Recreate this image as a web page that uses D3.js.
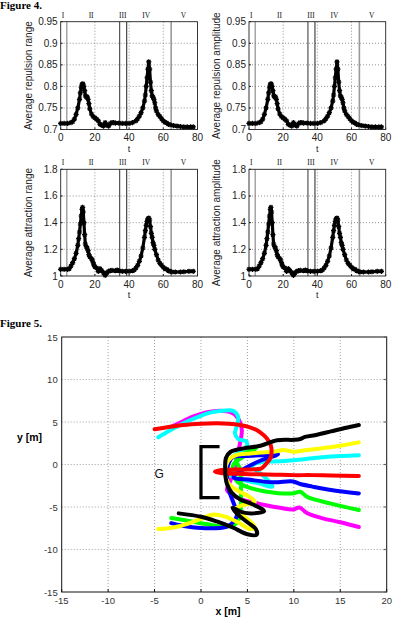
<!DOCTYPE html>
<html><head><meta charset="utf-8">
<script src="https://cdn.jsdelivr.net/npm/d3@7"></script>
<style>body{margin:0;background:#fff}svg{display:block}</style>
</head><body>
<svg id="c" width="408" height="625"></svg>
<script>
// ---------- Figure 4 data ----------
const tRep = [0,2,4,6,7,8,9,10,11,11.5,12,12.5,13,13.5,14,14.5,15,15.5,16,16.5,17,18,19,20,21,22,23,24,25,26,27,28,29,30,31,32,34,36,38,40,42,44,45,46,47,48,49,49.5,50,50.5,51,51.5,52,52.5,53,53.5,54,54.5,55,55.5,56,57,58,59,60,61,62,63,64,66,68,70,72,74,76,77.5];
const repRange = [0.714,0.714,0.714,0.716,0.718,0.724,0.735,0.75,0.77,0.785,0.798,0.805,0.806,0.8,0.79,0.778,0.775,0.776,0.77,0.76,0.748,0.736,0.73,0.727,0.724,0.72,0.712,0.71,0.708,0.716,0.71,0.708,0.714,0.716,0.716,0.715,0.715,0.714,0.714,0.714,0.716,0.72,0.725,0.731,0.739,0.75,0.766,0.78,0.8,0.82,0.84,0.857,0.84,0.81,0.79,0.778,0.775,0.77,0.762,0.75,0.743,0.735,0.73,0.725,0.72,0.717,0.715,0.712,0.711,0.709,0.708,0.707,0.706,0.706,0.706,0.706];
const repAmp = [0.714,0.714,0.714,0.716,0.718,0.724,0.735,0.75,0.77,0.785,0.798,0.805,0.806,0.8,0.79,0.778,0.775,0.776,0.77,0.76,0.748,0.736,0.73,0.727,0.724,0.72,0.712,0.71,0.708,0.716,0.71,0.708,0.714,0.716,0.716,0.715,0.715,0.714,0.714,0.714,0.716,0.72,0.725,0.731,0.739,0.75,0.766,0.78,0.8,0.82,0.84,0.857,0.84,0.81,0.79,0.778,0.775,0.77,0.762,0.75,0.743,0.735,0.73,0.725,0.72,0.717,0.715,0.712,0.711,0.709,0.708,0.707,0.706,0.706,0.706,0.706];
const tAtt = [0,2,4,5,6,7,8,9,10,10.5,11,11.5,12,12.5,12.8,13.2,13.6,14,14.4,15,15.5,16,16.5,17,18,18.5,19,19.5,20,21,22,23,24,25,26,27,28,29,30,32,33,34,36,38,40,42,43,44,45,46,47,48,49,49.5,50,50.5,51,51.5,52,52.5,53,53.5,54,54.5,55,56,57,58,59,60,61,62,63,64,65,67,70,72,75,77.5];
const attRange = [1.05,1.05,1.05,1.055,1.075,1.1,1.13,1.17,1.23,1.28,1.33,1.39,1.45,1.5,1.515,1.48,1.4,1.31,1.24,1.22,1.21,1.19,1.16,1.145,1.13,1.12,1.1,1.08,1.07,1.06,1.035,1.055,1.04,1.025,1.005,1.025,1.035,1.04,1.042,1.04,1.045,1.04,1.035,1.035,1.035,1.04,1.045,1.06,1.08,1.11,1.15,1.21,1.29,1.34,1.38,1.41,1.43,1.435,1.42,1.37,1.32,1.29,1.25,1.23,1.2,1.16,1.12,1.095,1.08,1.065,1.055,1.05,1.04,1.035,1.03,1.03,1.03,1.032,1.035,1.035];
const attAmp = [1.05,1.05,1.05,1.055,1.075,1.1,1.13,1.17,1.23,1.28,1.33,1.39,1.45,1.5,1.515,1.48,1.4,1.31,1.24,1.22,1.21,1.19,1.16,1.145,1.13,1.12,1.1,1.08,1.07,1.06,1.035,1.055,1.04,1.025,1.005,1.025,1.035,1.04,1.042,1.04,1.045,1.04,1.035,1.035,1.035,1.04,1.045,1.06,1.08,1.11,1.15,1.21,1.29,1.34,1.38,1.41,1.43,1.435,1.42,1.37,1.32,1.29,1.25,1.23,1.2,1.16,1.12,1.095,1.08,1.065,1.055,1.05,1.04,1.035,1.03,1.03,1.03,1.032,1.035,1.035];
const tTicks = [0,20,40,60,80];
const repTicks = [0.7,0.75,0.8,0.85,0.9,0.95];
const repTickLabels = ["0.7","0.75","0.8","0.85","0.9","0.95"];
const attTicks = [1,1.2,1.4,1.6,1.8];
const attTickLabels = ["1","1.2","1.4","1.6","1.8"];
const phaseLines = [3.6,34.5,38.6,64.6];
const phaseLabels = ["I","II","III","IV","V"];
const phaseLabelT = [1.3,17.8,36.3,50,71.8];

// ---------- Figure 5 data ----------
const xTicks5 = [-15,-10,-5,0,5,10,15,20];
const yTicks5 = [-15,-10,-5,0,5,10,15];
const trajMagenta = [[-3.3,4.4],[-2.8,4.65],[-2,5.05],[-1.2,5.5],[0,5.95],[1,6.2],[2.4,6.3],[3.5,6.0],[4.2,5.0],[4.4,4.0],[4.2,2.5],[3.9,1.0],[3.6,-0.5],[3.2,-1.8],[2.8,-3.0],[3.6,-3.7],[4.6,-4.2],[5.8,-4.5],[7,-4.8],[8.5,-5.1],[9.9,-5.3],[10.6,-5.05],[11.4,-5.7],[13,-6.3],[15,-6.8],[17,-7.35]];
const trajCyan = [[-4.6,3.2],[-3.5,3.9],[-2.6,4.45],[-1.2,5.2],[-0.1,5.7],[1,6.1],[2.05,6.3],[3.5,6.3],[4.0,5.6],[3.9,4.65],[3.66,3.67],[4.0,3.0],[4.9,2.7],[4.9,2.1],[4.2,1.5],[3.2,0.7],[2.6,-0.3],[3.2,-1.3],[4.5,-1.8],[6.2,-2.2],[7.7,-2.6],[6.8,-1.4],[5.5,-0.2],[6.5,0.3],[7.8,0.35],[10,0.5],[12.5,0.8],[15,1.0],[17,1.1]];
const trajGreen = [[-3.2,-6.3],[-1.5,-6.6],[0.5,-7.0],[2.8,-7.3],[3.8,-6.9],[4.2,-6.0],[4.3,-4.5],[4.3,-2.5],[4.2,-0.5],[3.8,0.5],[4.5,1.2],[6,2.0],[5,1.2],[3.5,0],[3.5,-1.2],[3.9,-2.0],[4.9,-2.6],[7.1,-3.2],[9.9,-3.4],[10.7,-3.2],[11.4,-3.8],[14,-4.6],[17,-5.35]];
const trajBlue = [[-3.2,-6.9],[-1.5,-7.3],[0.5,-7.5],[2.8,-7.3],[3.6,-6.6],[3.9,-5.8],[3.5,-4.5],[3.0,-3.0],[2.8,-1.5],[3.0,0.2],[3.5,0.9],[5,1.0],[6.5,1.1],[8.3,1.2],[6.5,0.5],[4.5,-0.6],[3.5,-1.5],[5.3,-1.8],[7.8,-2.1],[9.9,-2.0],[10.7,-2.3],[12,-2.6],[14,-3.0],[17,-3.4]];
const trajYellow = [[-4.6,-7.6],[-3.5,-7.5],[-2.5,-7.3],[-1,-6.8],[0.2,-6.3],[1.2,-5.9],[2.5,-6.1],[4,-6.8],[5.3,-7.6],[5.8,-7.4],[5.2,-6.6],[4.2,-5.8],[3.6,-5.3],[4.4,-4.8],[5.8,-4.4],[5.2,-3.8],[4,-3.1],[3,-2.3],[2.6,-1],[2.9,0.4],[3.8,1.1],[5.3,1.3],[6.5,1.4],[7.8,1.5],[8.9,1.7],[10,1.5],[11.4,1.7],[13,1.9],[15,2.2],[17,2.6]];
const trajRed = [[-5,4.15],[-3.5,4.4],[-1.9,4.65],[0,4.8],[1.7,4.85],[3,4.8],[4.2,4.65],[5.2,4.4],[6,4.05],[6.7,3.5],[7.1,3.05],[7.5,2.3],[7.6,1.7],[7.5,0.8],[7.1,0.2],[6.7,-0.3],[6.4,-0.5],[5,-0.6],[3.5,-0.6],[2.2,-0.65],[1.5,-0.85],[2.5,-1.05],[4,-1.1],[6,-1.15],[8,-1.2],[10,-1.25],[12,-1.25],[14,-1.3],[17,-1.35]];
const trajBlack = [[17,4.65],[15.5,4.3],[14,3.9],[12.5,3.5],[11.2,3.25],[10.7,3.0],[10,2.9],[8.2,2.85],[6.4,2.2],[4.6,1.9],[3.2,1.5],[2.7,0.8],[2.6,-0.5],[2.65,-1.5],[2.8,-2.3],[3.3,-3.3],[4.2,-4.1],[5.6,-4.7],[6.8,-5.5],[5.6,-5.75],[4.4,-5.6],[3.4,-5.1],[3.9,-5.8],[5,-6.8],[5.9,-7.6],[6.0,-8.25],[5,-8.2],[3.4,-7.4],[1.7,-6.7],[0,-6.15],[-2.4,-5.75]];
const goalBracket = [[2,2.1],[0,2.1],[0,-3.9],[2,-3.9]];
const goalLabel = {text:"G", x:-4.5, y:-1};

const svg = d3.select("#c");
const SANS = "'Liberation Sans', Arial, Helvetica, sans-serif";
const SERIF = "'Liberation Serif', 'Times New Roman', serif";

// ---------- Figure 4 ----------
svg.append("text").attr("x",0).attr("y",9).attr("font-family",SERIF).attr("font-weight","bold").attr("font-size",11).text("Figure 4.");

function panel(p){
  const x = d3.scaleLinear([0,80],[p.x0,p.x1]);
  const y = d3.scaleLinear(p.yDom,[p.y1,p.y0]);
  const g = svg.append("g");
  g.selectAll(".gx").data(tTicks.slice(1,-1)).join("line")
    .attr("x1",d=>x(d)).attr("x2",d=>x(d)).attr("y1",p.y0).attr("y2",p.y1)
    .attr("stroke","#777").attr("stroke-width",0.8).attr("stroke-dasharray","1,2");
  g.selectAll(".gy").data(p.ticks.slice(1,-1)).join("line")
    .attr("y1",d=>y(d)).attr("y2",d=>y(d)).attr("x1",p.x0).attr("x2",p.x1)
    .attr("stroke","#777").attr("stroke-width",0.8).attr("stroke-dasharray","1,2");
  const pc = ["#777","#333","#222","#999"];
  const pw = [1,1,1,1.6];
  g.selectAll(".pl").data(phaseLines).join("line")
    .attr("x1",d=>x(d)).attr("x2",d=>x(d)).attr("y1",p.y0).attr("y2",p.y1)
    .attr("stroke",(d,i)=>pc[i]).attr("stroke-width",(d,i)=>pw[i]);
  g.selectAll(".plab").data(phaseLabels).join("text")
    .attr("x",(d,i)=>x(phaseLabelT[i])).attr("y",p.y0-4).attr("text-anchor","middle")
    .attr("font-family",SERIF).attr("font-size",7.5).attr("fill","#111").text(d=>d);
  g.append("rect").attr("x",p.x0).attr("y",p.y0).attr("width",p.x1-p.x0).attr("height",p.y1-p.y0)
    .attr("fill","none").attr("stroke","#222").attr("stroke-width",0.9);
  g.selectAll(".tx").data(tTicks).join("line").attr("x1",d=>x(d)).attr("x2",d=>x(d)).attr("y1",p.y1).attr("y2",p.y1-2).attr("stroke","#222");
  g.selectAll(".ty").data(p.ticks).join("line").attr("y1",d=>y(d)).attr("y2",d=>y(d)).attr("x1",p.x0).attr("x2",p.x0+2).attr("stroke","#222");
  g.selectAll(".txl").data(tTicks).join("text").attr("x",d=>x(d)).attr("y",p.y1+11.5).attr("text-anchor","middle")
    .attr("font-family",SANS).attr("font-size",10).attr("fill","#222").text(d=>d);
  g.selectAll(".tyl").data(p.ticks).join("text").attr("x",p.x0-3).attr("y",d=>y(d)+3.5).attr("text-anchor","end")
    .attr("font-family",SANS).attr("font-size",10).attr("fill","#222").text((d,i)=>p.labels[i]);
  g.append("text").attr("x",(p.x0+p.x1)/2).attr("y",p.y1+22).attr("text-anchor","middle")
    .attr("font-family",SANS).attr("font-size",9).attr("fill","#222").text("t");
  g.append("text").attr("transform",`translate(${p.x0-29},${(p.y0+p.y1)/2}) rotate(-90)`).attr("text-anchor","middle")
    .attr("font-family",SANS).attr("font-size",10).attr("fill","#222").text(p.ylabel);
  const pts = p.t.map((t,i)=>[t,p.v[i]]);
  g.append("path").attr("d",d3.line().x(d=>x(d[0])).y(d=>y(d[1]))(pts))
    .attr("fill","none").attr("stroke","#000").attr("stroke-width",3.2).attr("stroke-linejoin","round");
  const m = 2.6;
  g.selectAll(".mk").data(pts).join("path")
    .attr("d",d=>{const cx=x(d[0]),cy=y(d[1]);return `M${cx-m},${cy}H${cx+m}M${cx},${cy-m}V${cy+m}M${cx-m*0.7},${cy-m*0.7}L${cx+m*0.7},${cy+m*0.7}M${cx-m*0.7},${cy+m*0.7}L${cx+m*0.7},${cy-m*0.7}`;})
    .attr("stroke","#000").attr("stroke-width",1.2).attr("fill","none");
}
panel({x0:60.7,x1:197.5,y0:21.7,y1:129.5,yDom:[0.7,0.95],ticks:repTicks,labels:repTickLabels,t:tRep,v:repRange,ylabel:"Average repulsion range"});
panel({x0:249,x1:385.7,y0:21.7,y1:129.5,yDom:[0.7,0.95],ticks:repTicks,labels:repTickLabels,t:tRep,v:repAmp,ylabel:"Average repulsion amplitude"});
panel({x0:60.7,x1:197.5,y0:169.3,y1:276,yDom:[1,1.8],ticks:attTicks,labels:attTickLabels,t:tAtt,v:attRange,ylabel:"Average attraction range"});
panel({x0:249,x1:385.7,y0:169.3,y1:276,yDom:[1,1.8],ticks:attTicks,labels:attTickLabels,t:tAtt,v:attAmp,ylabel:"Average attraction amplitude"});

// ---------- Figure 5 ----------
svg.append("text").attr("x",0).attr("y",327).attr("font-family",SERIF).attr("font-weight","bold").attr("font-size",11).text("Figure 5.");
const L=61.7,R=386.7,T=337,B=592;
const x5 = d3.scaleLinear([-15,20],[L,R]);
const y5 = d3.scaleLinear([-15,15],[B,T]);
const g5 = svg.append("g");
g5.selectAll(".gx").data(xTicks5.slice(1,-1)).join("line").attr("x1",d=>x5(d)).attr("x2",d=>x5(d)).attr("y1",T).attr("y2",B)
  .attr("stroke","#888").attr("stroke-width",0.8).attr("stroke-dasharray","1,2");
g5.selectAll(".gy").data(yTicks5.slice(1,-1)).join("line").attr("y1",d=>y5(d)).attr("y2",d=>y5(d)).attr("x1",L).attr("x2",R)
  .attr("stroke","#888").attr("stroke-width",0.8).attr("stroke-dasharray","1,2");
g5.append("rect").attr("x",L).attr("y",T).attr("width",R-L).attr("height",B-T).attr("fill","none").attr("stroke","#111").attr("stroke-width",1);
g5.selectAll(".tx").data(xTicks5).join("line").attr("x1",d=>x5(d)).attr("x2",d=>x5(d)).attr("y1",B).attr("y2",B-3).attr("stroke","#111");
g5.selectAll(".ty").data(yTicks5).join("line").attr("y1",d=>y5(d)).attr("y2",d=>y5(d)).attr("x1",R).attr("x2",R-3).attr("stroke","#666").attr("stroke-width",1.2);
g5.selectAll(".txl").data(xTicks5).join("text").attr("x",d=>x5(d)).attr("y",B+12).attr("text-anchor","middle")
  .attr("font-family",SANS).attr("font-size",9.5).attr("fill","#333").text(d=>String(d));
g5.selectAll(".tyl").data(yTicks5).join("text").attr("x",L-4).attr("y",d=>y5(d)+3.5).attr("text-anchor","end")
  .attr("font-family",SANS).attr("font-size",9.5).attr("fill","#333").text(d=>String(d));
g5.append("text").attr("x",228).attr("y",615).attr("text-anchor","middle").attr("font-family",SANS).attr("font-weight","bold").attr("font-size",10.5).text("x [m]");
g5.append("text").attr("x",17).attr("y",441).attr("font-family",SANS).attr("font-weight","bold").attr("font-size",10.5).text("y [m]");

const line5 = d3.line().x(d=>x5(d[0])).y(d=>y5(d[1])).curve(d3.curveCatmullRom.alpha(0.5));
const trajs = [[trajMagenta,"#ff00ff"],[trajCyan,"#00ffff"],[trajGreen,"#00ff00"],[trajBlue,"#0000ff"],[trajYellow,"#ffff00"],[trajRed,"#ff0000"],[trajBlack,"#000000"]];
trajs.forEach(([d,c])=>{
  g5.append("path").attr("d",line5(d)).attr("fill","none").attr("stroke",c).attr("stroke-width",4)
    .attr("stroke-linejoin","round").attr("stroke-linecap","round");
});
g5.append("path").attr("d",d3.line().x(d=>x5(d[0])).y(d=>y5(d[1]))(goalBracket)).attr("fill","none").attr("stroke","#000").attr("stroke-width",3.2);
g5.append("text").attr("x",x5(goalLabel.x)).attr("y",y5(goalLabel.y)+4.5).attr("text-anchor","middle")
  .attr("font-family",SANS).attr("font-size",12).attr("fill","#111").text(goalLabel.text);
</script>
</body></html>
